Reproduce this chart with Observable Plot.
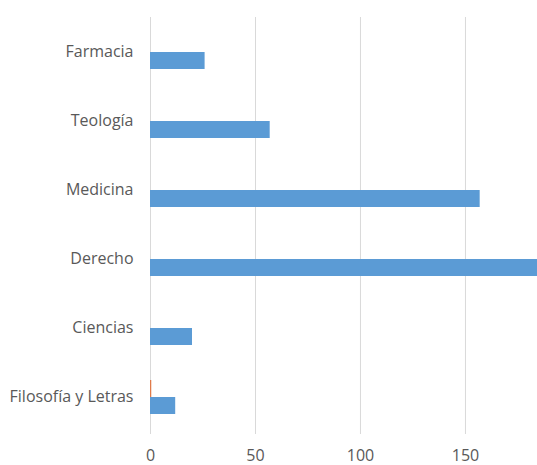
<!DOCTYPE html>
<html>
<head>
<meta charset="utf-8">
<script src="https://cdn.jsdelivr.net/npm/d3@7"></script>
<script src="https://cdn.jsdelivr.net/npm/@observablehq/plot@0.6"></script>
<style>
  html, body { margin: 0; padding: 0; background: #fff; }
  #chart { width: 537px; height: 465px; }
</style>
</head>
<body>
<div id="chart"></div>
<script>
// Faculties, top to bottom
const categories = ["Farmacia", "Teología", "Medicina", "Derecho", "Ciencias", "Filosofía y Letras"];
// Two series per faculty
const seriesNames = ["Serie 1", "Serie 2"];
const serie1 = [26, 57, 157, 195, 20, 12];
const serie2 = [0, 0, 0, 0, 0, 0.6];
const xTicks = [0, 50, 100, 150];

const table = categories.flatMap((c, i) => [
  {category: c, series: seriesNames[0], value: serie1[i]},
  {category: c, series: seriesNames[1], value: serie2[i]}
]);

const font = "'Open Sans', Lato, sans-serif";

const chart = Plot.plot({
  width: 537,
  height: 465,
  marginLeft: 150,
  marginRight: 0,
  marginTop: 15,
  marginBottom: 32,
  style: {fontFamily: font, fontSize: "16px", color: "#595959", background: "#fff"},
  x: {domain: [0, 184.3]},
  fy: {domain: categories, padding: 0},
  y: {domain: [seriesNames[1], seriesNames[0]], paddingInner: 0, paddingOuter: 0.935, axis: null},
  color: {domain: seriesNames, range: ["#5B9BD5", "#E07B4A"]},
  marks: [
    Plot.ruleX(xTicks, {stroke: "#d9d9d9", strokeWidth: 1}),
    Plot.barX(table, {x: "value", y: "series", fy: "category", fill: "series", clip: true}),
    Plot.axisX(xTicks, {tickSize: 3, tickPadding: 15, stroke: "#d9d9d9", fill: "#595959", fontSize: 16, label: null}),
    Plot.axisFy({anchor: "left", tickSize: 0, tickPadding: 17, fill: "#595959", fontSize: 16, label: null})
  ]
});

document.getElementById("chart").appendChild(chart);
</script>
</body>
</html>
